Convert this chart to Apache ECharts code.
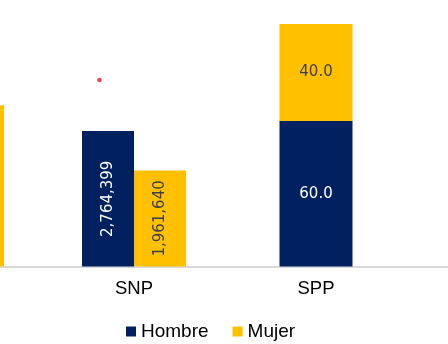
<!DOCTYPE html>
<html>
<head>
<meta charset="utf-8">
<script src="https://cdn.jsdelivr.net/npm/echarts@6/dist/echarts.min.js"></script>
<style>html,body{margin:0;padding:0;background:#fff}#c{width:448px;height:344px}</style>
</head>
<body>
<div id="c"></div>
<script>
// Categories (first and last are cut off in the reference crop)
const categories = ['Total', 'SNP', 'SPP', ''];
// Absolute counts (left axis)
const hombreCount = [null, 2764399, null, null];
const mujerCount = [3294000, 1961640, null, null];
// Percentages (right axis, stacked)
const hombrePct = [null, null, 60.0, null];
const mujerPct = [null, null, 40.0, null];
// Stray red marker: [position along category index, count value]
const redDot = [[0.81, 3805000]];

const NAVY = '#002060', GOLD = '#FFC000';
const fmtInt = v => Math.round(v).toString().replace(/\B(?=(\d{3})+(?!\d))/g, ',');
const lbl = (color, fmt) => ({
  show: true, position: 'inside', rotate: 90, color: color,
  fontFamily: 'DejaVu Sans', fontSize: 15,
  formatter: p => fmt(p.value)
});
const lblH = (color) => ({
  show: true, position: 'inside', color: color,
  fontFamily: 'DejaVu Sans', fontSize: 15,
  formatter: p => Number(p.value).toFixed(1)
});

const chart = echarts.init(document.getElementById('c'), null, {renderer: 'canvas'});
chart.setOption({
  animation: false,
  backgroundColor: '#fff',
  grid: {left: -139, width: 728, top: 24, bottom: 77.5, containLabel: false, outerBoundsMode: 'none'},
  legend: {
    data: ['Hombre', 'Mujer'], left: 126, top: 322, padding: 0, icon: 'rect',
    itemWidth: 10, itemHeight: 10, itemGap: 24,
    textStyle: {fontFamily: 'Liberation Sans', fontSize: 19, color: '#000'}
  },
  xAxis: [
    {type: 'category', data: categories,
     axisLine: {show: true, lineStyle: {color: '#d9d9d9', width: 2}},
     axisTick: {show: false},
     axisLabel: {fontFamily: 'Liberation Sans', fontSize: 18.5, color: '#000', margin: 13}},
    {type: 'category', data: categories, show: false},
    {type: 'value', min: -0.5, max: 3.5, show: false}
  ],
  yAxis: [
    {type: 'value', min: 0, max: 4950000, show: false, splitLine: {show: false}},
    {type: 'value', min: 0, max: 100, show: false, splitLine: {show: false}}
  ],
  series: [
    {name: 'Hombre', type: 'bar', xAxisIndex: 0, yAxisIndex: 0, data: hombreCount,
     barWidth: 52, barGap: '0%', itemStyle: {color: NAVY}, label: lbl('#fff', fmtInt)},
    {name: 'Mujer', type: 'bar', xAxisIndex: 0, yAxisIndex: 0, data: mujerCount,
     barWidth: 52, barGap: '0%', itemStyle: {color: GOLD}, label: lbl('#404040', fmtInt)},
    {name: 'Hombre', type: 'bar', xAxisIndex: 1, yAxisIndex: 1, data: hombrePct, stack: 'pct',
     barWidth: 73, itemStyle: {color: NAVY}, label: lblH('#fff')},
    {name: 'Mujer', type: 'bar', xAxisIndex: 1, yAxisIndex: 1, data: mujerPct, stack: 'pct',
     barWidth: 73, itemStyle: {color: GOLD}, label: lblH('#404040')},
    {name: 'marker', type: 'scatter', xAxisIndex: 2, yAxisIndex: 0, data: redDot,
     symbol: 'circle', symbolSize: 4.5, itemStyle: {color: '#e8141c'}, silent: true}
  ]
});
</script>
</body>
</html>
